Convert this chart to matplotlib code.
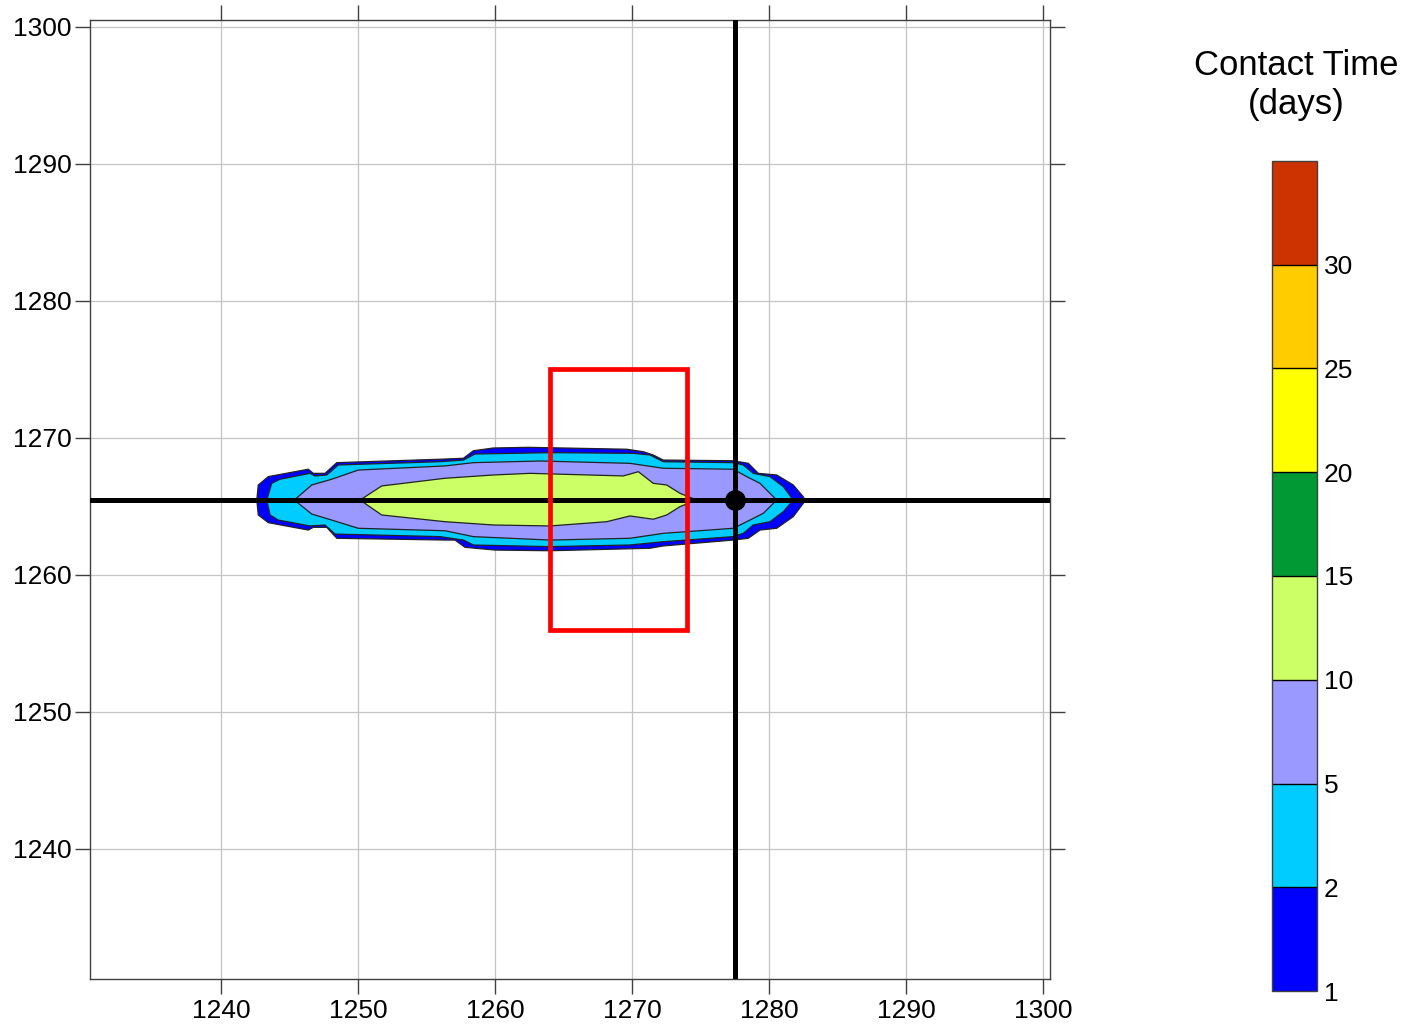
import numpy as np
import matplotlib
matplotlib.use("Agg")
import matplotlib.pyplot as plt
from matplotlib.colors import ListedColormap, BoundaryNorm
from matplotlib.cm import ScalarMappable
from matplotlib.patches import Rectangle

plt.rcParams['font.family'] = ['Liberation Sans', 'DejaVu Sans']

# contact time classes (days) and their fill colours
levels = [1, 2, 5, 10, 15, 20, 25, 30, 35]
level_labels = [1, 2, 5, 10, 15, 20, 25, 30]
level_colors = ['#0000ff', '#00ccff', '#9999ff', '#ccff66',
                '#009933', '#ffff00', '#ffcc00', '#cc3300']

# contour outlines (x, y) for the 1, 2, 5 and 10 day levels
c1_x = [1242.61, 1242.72, 1243.45, 1246.37, 1246.74, 1247.59, 1248.45, 1255.99,
        1257.69, 1258.42, 1259.88, 1262.43, 1269.61, 1270.82, 1271.55, 1272.28,
        1277.39, 1278.49, 1279.22, 1280.56, 1281.77, 1282.50, 1282.63,
        1282.50, 1281.77, 1280.56, 1279.34, 1278.49, 1277.39, 1272.28, 1271.31,
        1264.01, 1260.00, 1257.81, 1257.08, 1256.35, 1248.45, 1247.72, 1246.74,
        1246.37, 1243.45, 1242.72]
c1_y = [1265.47, 1266.57, 1267.18, 1267.72, 1267.42, 1267.42, 1268.20, 1268.45,
        1268.52, 1269.07, 1269.27, 1269.32, 1269.18, 1269.00, 1268.76, 1268.39,
        1268.34, 1268.15, 1267.42, 1267.30, 1266.57, 1265.71, 1265.47,
        1265.23, 1264.26, 1263.41, 1263.28, 1262.68, 1262.55, 1262.12, 1261.95,
        1261.77, 1261.82, 1262.02, 1262.55, 1262.55, 1262.68, 1263.48, 1263.48,
        1263.28, 1263.82, 1264.38]

c2_x = [1243.34, 1243.70, 1244.31, 1246.50, 1246.86, 1247.72, 1248.56, 1255.99,
        1257.69, 1258.54, 1264.01, 1270.09, 1271.31, 1272.28, 1277.39, 1278.12,
        1278.85, 1280.07, 1281.04, 1281.77,
        1281.04, 1280.07, 1278.85, 1278.12, 1277.39, 1272.28, 1269.85, 1264.01,
        1258.42, 1257.69, 1255.99, 1248.32, 1247.59, 1246.50, 1244.18, 1243.58]
c2_y = [1265.47, 1266.69, 1266.99, 1267.42, 1267.23, 1267.30, 1268.03, 1268.27,
        1268.39, 1268.83, 1268.93, 1268.88, 1268.76, 1268.27, 1268.20, 1268.03,
        1267.42, 1267.18, 1266.45, 1265.47,
        1264.62, 1263.89, 1263.65, 1263.04, 1262.80, 1262.43, 1262.19, 1262.07,
        1262.19, 1262.55, 1262.80, 1262.99, 1263.65, 1263.58, 1264.01, 1264.38]

c5_x = [1245.35, 1246.62, 1248.08, 1250.02, 1256.35, 1258.42, 1263.28, 1269.85,
        1272.28, 1277.39, 1278.37, 1279.34, 1280.56,
        1279.58, 1278.37, 1277.39, 1272.28, 1269.85, 1264.01, 1258.42, 1256.35,
        1250.02, 1248.08, 1246.62]
c5_y = [1265.47, 1266.57, 1266.99, 1267.66, 1267.96, 1268.20, 1268.32, 1268.15,
        1267.79, 1267.72, 1267.18, 1266.69, 1265.47,
        1264.50, 1263.89, 1263.41, 1263.04, 1262.68, 1262.55, 1262.80, 1263.23,
        1263.41, 1264.01, 1264.45]

c10_x = [1250.15, 1251.73, 1256.35, 1259.88, 1262.55, 1269.37, 1270.46, 1271.55,
         1272.53, 1273.50, 1274.72,
         1273.50, 1272.53, 1271.55, 1269.85, 1268.15, 1264.01, 1259.88, 1256.35,
         1251.73]
c10_y = [1265.47, 1266.50, 1267.06, 1267.30, 1267.42, 1267.23, 1267.54, 1266.69,
         1266.57, 1265.96, 1265.47,
         1264.99, 1264.38, 1264.07, 1264.31, 1263.89, 1263.58, 1263.65, 1263.89,
         1264.38]

# well location and study box
site_x = 1277.5
site_y = 1265.5
box_x0, box_x1 = 1264.0, 1274.0
box_y0, box_y1 = 1256.0, 1275.0

ticks = [1240, 1250, 1260, 1270, 1280, 1290, 1300]

fig = plt.figure(figsize=(14.18, 10.26), dpi=100)
ax = fig.add_axes([0.0635, 0.0458, 0.677, 0.9347])

ax.set_xlim(1230.44, 1300.51)
ax.set_ylim(1230.51, 1300.51)

for xs, ys, col in [(c1_x, c1_y, level_colors[0]), (c2_x, c2_y, level_colors[1]),
                    (c5_x, c5_y, level_colors[2]), (c10_x, c10_y, level_colors[3])]:
    ax.fill(xs, ys, facecolor=col, edgecolor='#222222', linewidth=0.9, zorder=2)

ax.axhline(site_y, color='black', lw=3.6, zorder=4)
ax.axvline(site_x, color='black', lw=3.6, zorder=4)
ax.plot(site_x, site_y, 'o', color='black', markersize=14, zorder=5)

ax.add_patch(Rectangle((box_x0, box_y0), box_x1 - box_x0, box_y1 - box_y0,
                       fill=False, edgecolor='#ff0000', lw=3.4, zorder=6))

ax.set_xticks(ticks)
ax.set_yticks(ticks)
ax.grid(True, color='#c4c4c4', lw=0.9, zorder=0)
ax.set_axisbelow(True)
ax.tick_params(which='both', direction='out', length=10.5, width=1.0,
               color='#404040', top=True, right=True, labelsize=19, pad=3)
ax.tick_params(axis='x', pad=4)
for sp in ax.spines.values():
    sp.set_color('#404040')
    sp.set_linewidth(1.0)

# colour scale
cax = fig.add_axes([0.897, 0.0341, 0.0317, 0.809])
cmap = ListedColormap(level_colors)
norm = BoundaryNorm(levels, cmap.N)
cb = fig.colorbar(ScalarMappable(norm=norm, cmap=cmap), cax=cax,
                  boundaries=levels, spacing='uniform', drawedges=True,
                  ticks=level_labels)
cb.minorticks_off()
cb.dividers.set_color('black')
cb.dividers.set_linewidth(1.0)
cb.outline.set_edgecolor('#404040')
cb.outline.set_linewidth(1.0)
cax.tick_params(which='both', length=0, labelsize=19, pad=5)

fig.text(0.914, 0.917, 'Contact Time\n(days)', ha='center', va='center',
         fontsize=25, linespacing=1.25)

fig.savefig('out.png', dpi=100)
